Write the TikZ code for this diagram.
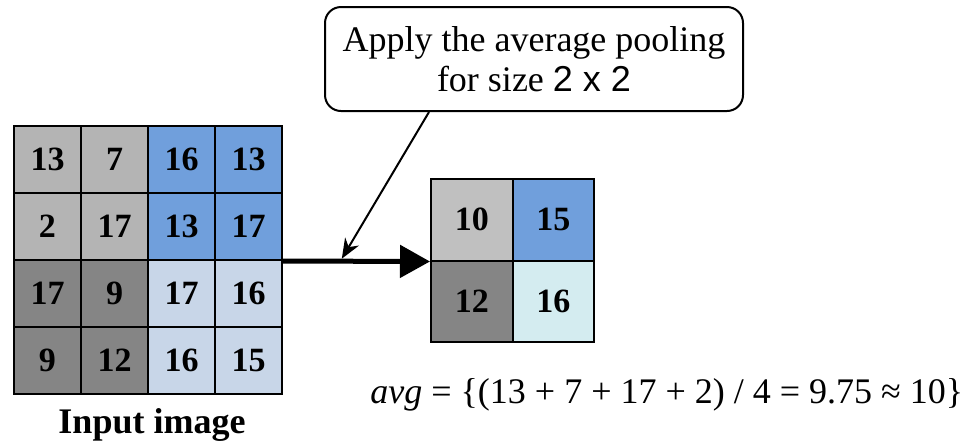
\documentclass[tikz,border=0pt]{standalone}
\usepackage{fontspec}
\setmainfont{Liberation Serif}
\newfontfamily\sansfont{Liberation Sans}
\usetikzlibrary{arrows.meta,calc}
\definecolor{quad0}{RGB}{180,180,180}
\definecolor{quad1}{RGB}{112,159,220}
\definecolor{quad2}{RGB}{133,133,133}
\definecolor{quad3}{RGB}{200,214,232}
\definecolor{outgray}{RGB}{192,192,192}
\definecolor{outcyan}{RGB}{212,236,240}
\begin{document}
\begin{tikzpicture}[x=0.5pt, y=-0.5pt,
		cell/.style={rectangle, draw, line width=1pt, minimum size=33.5pt, inner sep=0pt, font=\fontsize{17}{19}\selectfont\bfseries},
		outcell/.style={cell, minimum size=40.75pt},
		notebox/.style={rectangle, rounded corners=8pt, draw, line width=1pt, minimum width=209pt, minimum height=52pt, align=center, font=\fontsize{18}{20}\selectfont},
		flow/.style={line width=2.5pt, -{Triangle[length=15pt, width=16pt]}},
		pointer/.style={line width=1pt, -{Stealth[length=10pt, width=8pt]}}
		]
		\useasboundingbox (0,0) rectangle (978,446);
		% input image 4 x 4, coloured by 2 x 2 block
		\foreach \val [count=\k from 0] in {13,7,16,13,2,17,13,17,17,9,17,16,9,12,16,15} {
			\pgfmathtruncatemacro{\r}{div(\k,4)}
			\pgfmathtruncatemacro{\c}{mod(\k,4)}
			\pgfmathtruncatemacro{\q}{2*(\r>1)+(\c>1)}
			\node[cell, fill=quad\q] (in-\r-\c) at (47.5+67*\c, 159.5+67*\r) {\val};
		}
		\node[font=\fontsize{18}{20}\selectfont\bfseries, anchor=base] (label) at (152,433) {Input image};
		
		% pooled output 2 x 2
		\foreach \val/\r/\c/\col in {10/0/0/outgray, 15/0/1/quad1, 12/1/0/quad2, 16/1/1/outcyan}
			\node[outcell, fill=\col] (out-\r-\c) at (471.75+81.5*\c, 219.75+81.5*\r) {\val};
		
		\draw[flow] (in-1-3.south east) -- (out-0-0.south west);
		
		% callout
		\node[notebox] (note) at (534,59) {Apply the average pooling\\for size {\sansfont 2 x 2}};
		\coordinate (note-foot) at ($(note.south west)!0.25!(note.south east)$);
		\coordinate (hit) at ($(in-1-3.south east)!0.4!(out-0-0.south west) + (0,-2.5)$);
		\draw[pointer] (note-foot) -- (hit);
		
		\node[anchor=base west, inner sep=0pt, font=\fontsize{18}{20}\selectfont] (avg) at (370,403) {\textit{avg} = \{(13 + 7 + 17 + 2) / 4 = 9.75 ≈ 10\}};
	\end{tikzpicture}
\end{document}
